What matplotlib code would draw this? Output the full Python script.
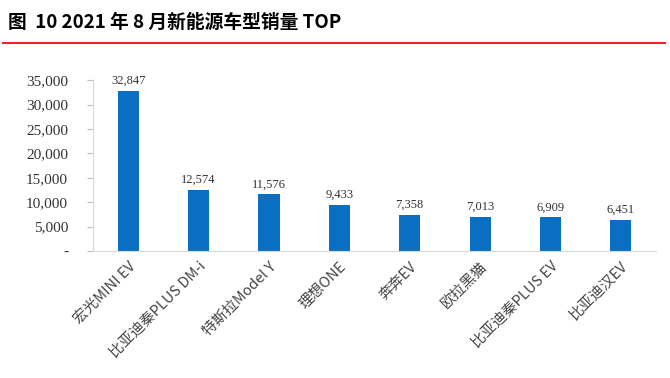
import matplotlib
matplotlib.use("Agg")
import matplotlib.pyplot as plt
from matplotlib.ticker import FuncFormatter
from matplotlib.lines import Line2D

plt.rcParams['font.family'] = ['Noto Sans CJK SC', 'DejaVu Sans']

models = ["宏光MINI EV", "比亚迪秦PLUS DM-i", "特斯拉Model Y", "理想ONE",
          "奔奔EV", "欧拉黑猫", "比亚迪秦PLUS EV", "比亚迪汉EV"]
sales = [32847, 12574, 11576, 9433, 7358, 7013, 6909, 6451]
yticks = [0, 5000, 10000, 15000, 20000, 25000, 30000, 35000]

fig = plt.figure(figsize=(6.70, 3.78), dpi=100)
fig.text(0.012, 0.942, "图  10 2021 年 8 月新能源车型销量 TOP", fontsize=13.5,
         fontweight='bold', va='center', ha='left')
fig.add_artist(Line2D([0.005, 0.993], [0.887, 0.887], color='#E8262B', lw=1.5,
                      transform=fig.transFigure))

ax = fig.add_axes([0.139, 0.336, 0.84, 0.452])
x = range(len(models))
bars = ax.bar(x, sales, width=0.3, color='#0A6FC2')
for xi, v in zip(x, sales):
    ax.text(xi, v + 800, f"{v:,}", ha='center', va='bottom', fontsize=9,
            color='#333333', family=['Liberation Serif'])
ax.set_ylim(0, 35000)
ax.set_xlim(-0.5, len(models) - 0.5)
ax.set_yticks(yticks)
ax.yaxis.set_major_formatter(FuncFormatter(lambda v, p: "-" if v == 0 else f"{int(v):,}"))
for lab in ax.get_yticklabels():
    lab.set_family(['Liberation Serif'])
ax.tick_params(axis='y', labelsize=11, colors='#333333', length=4, color='#BFBFBF', pad=14)
ax.set_xticks(list(x))
ax.set_xticklabels(models, rotation=45, ha='right', rotation_mode='anchor',
                   fontsize=10.5, color='#444444', fontweight='light')
ax.tick_params(axis='x', length=0, pad=6)
for s in ['top', 'right']:
    ax.spines[s].set_visible(False)
ax.spines['left'].set_color('#D9D9D9')
ax.spines['bottom'].set_color('#D9D9D9')

fig.savefig("out.png", dpi=100)
